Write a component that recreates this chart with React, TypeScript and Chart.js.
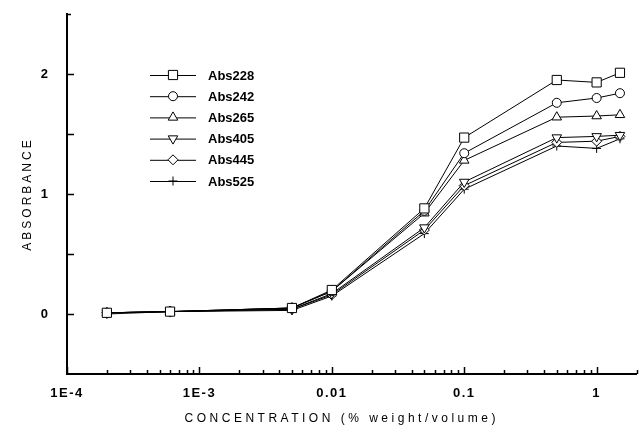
import React, { useEffect, useRef } from "react";
import { Chart, registerables } from "chart.js";
import * as helpers from "chart.js/helpers";

Chart.register(...registerables);

const concentrations = [2e-4, 6e-4, 5e-3, 0.01, 0.05, 0.1, 0.5, 1, 1.5];
const abs228 = [0.01, 0.02, 0.05, 0.2, 0.88, 1.47, 1.95, 1.93, 2.01];
const abs242 = [0.01, 0.02, 0.05, 0.19, 0.86, 1.34, 1.76, 1.8, 1.84];
const abs265 = [0.01, 0.02, 0.05, 0.19, 0.84, 1.28, 1.64, 1.65, 1.66];
const abs405 = [0.01, 0.02, 0.04, 0.17, 0.72, 1.1, 1.47, 1.48, 1.49];
const abs445 = [0.01, 0.02, 0.04, 0.16, 0.7, 1.07, 1.43, 1.44, 1.48];
const abs525 = [0.0, 0.02, 0.03, 0.15, 0.67, 1.04, 1.4, 1.38, 1.46];

const seriesNames = ["Abs228", "Abs242", "Abs265", "Abs405", "Abs445", "Abs525"];
const seriesValues = [abs228, abs242, abs265, abs405, abs445, abs525];
const pointStyles = ["rect", "circle", "triangle", "triangle", "rectRot", "cross"];
const pointRotations = [0, 0, 0, 180, 0, 0];
const pointRadii = [6.5, 4.5, 5.5, 5.5, 5, 4.5];

const xTickValues = [1e-4, 1e-3, 0.01, 0.1, 1];
const xTickLabels = ["1E-4", "1E-3", "0.01", "0.1", "1"];
const yTickValues = [0, 0.5, 1, 1.5, 2];
const yTickLabels = ["0", "", "1", "", "2"];

const FONT = "'Liberation Sans', Arial, Helvetica, sans-serif";

const spacingPatch = {
  id: "spacingPatch",
  beforeDraw(chart: any) {
    for (const id of ["x", "y"]) {
      const s = chart.scales[id];
      if (!s || s.__patched) continue;
      s.__patched = true;
      const origTitle = s.drawTitle.bind(s);
      const origLabels = s.drawLabels.bind(s);
      s.drawTitle = function (...args: any[]) {
        const ctx = chart.ctx;
        ctx.save();
        ctx.letterSpacing = id === "x" ? "3.5px" : "3px";
        if (id === "x") ctx.translate(-10, 0);
        origTitle(...args);
        ctx.restore();
      };
      s.drawLabels = function (...args: any[]) {
        const ctx = chart.ctx;
        ctx.save();
        ctx.letterSpacing = id === "x" ? "1.5px" : "0px";
        origLabels(...args);
        ctx.restore();
      };
    }
  },
};

const inwardTicks = {
  id: "inwardTicks",
  afterDraw(chart: any) {
    const { ctx, chartArea } = chart;
    const x = chart.scales.x;
    const y = chart.scales.y;
    ctx.save();
    ctx.strokeStyle = "#000";
    ctx.lineWidth = 1.5;
    ctx.beginPath();
    for (const v of [...yTickValues, 2.5]) {
      const py = Math.round(y.getPixelForValue(v)) + 0.5;
      const len = v === 2.5 ? 4 : 7;
      ctx.moveTo(chartArea.left, py);
      ctx.lineTo(chartArea.left + len, py);
    }
    for (let d = -4; d <= 0; d++) {
      for (let m = 1; m <= 9; m++) {
        const v = m * Math.pow(10, d);
        if (v > x.max + 1e-9) break;
        const px = Math.round(x.getPixelForValue(v)) + 0.5;
        const len = m === 1 ? 7 : 4;
        ctx.moveTo(px, chartArea.bottom);
        ctx.lineTo(px, chartArea.bottom - len);
      }
    }
    ctx.stroke();
    ctx.restore();
  },
};

const sideLegend = {
  id: "sideLegend",
  afterDraw(chart: any) {
    const { ctx } = chart;
    ctx.save();
    chart.data.datasets.forEach((ds: any, i: number) => {
      const cy = 75 + i * 21.2;
      const cx = 173;
      ctx.strokeStyle = "#000";
      ctx.lineWidth = 1;
      ctx.beginPath();
      ctx.moveTo(150, cy + 0.5);
      ctx.lineTo(196, cy + 0.5);
      ctx.stroke();
      ctx.fillStyle = "#fff";
      ctx.strokeStyle = "#000";
      ctx.lineWidth = 1;
      helpers.drawPoint(
        ctx,
        { pointStyle: ds.pointStyle, rotation: ds.pointRotation, radius: ds.pointRadius, borderWidth: 1 },
        cx,
        cy
      );
      ctx.fillStyle = "#000";
      ctx.font = `bold 13px ${FONT}`;
      ctx.textBaseline = "middle";
      ctx.textAlign = "left";
      ctx.fillText(ds.label, 208, cy + 1);
    });
    ctx.restore();
  },
};

export default function App() {
  const canvasRef = useRef<HTMLCanvasElement | null>(null);

  useEffect(() => {
    if (!canvasRef.current) return;
    const datasets = seriesNames.map((name, i) => ({
      label: name,
      data: concentrations.map((c, j) => ({ x: c, y: seriesValues[i][j] })),
      borderColor: "#000",
      borderWidth: 1,
      backgroundColor: "#fff",
      pointBackgroundColor: "#fff",
      pointBorderColor: "#000",
      pointBorderWidth: 1,
      pointStyle: pointStyles[i],
      pointRotation: pointRotations[i],
      pointRadius: pointRadii[i],
      tension: 0,
      fill: false,
    }));

    const chart = new Chart(canvasRef.current, {
      type: "line",
      data: { datasets },
      options: {
        animation: false,
        responsive: false,
        maintainAspectRatio: false,
        devicePixelRatio: 1,
        layout: { padding: { top: 14, right: 2, left: 0, bottom: 0 } },
        plugins: {
          legend: { display: false },
          tooltip: { enabled: false },
        },
        scales: {
          x: {
            type: "logarithmic",
            min: 1e-4,
            max: 2,
            grid: { display: false, drawTicks: false },
            border: { display: true, color: "#000", width: 2 },
            afterBuildTicks: (scale: any) => {
              scale.ticks = xTickValues.map((v) => ({ value: v }));
            },
            afterFit: (scale: any) => {
              scale.height = 55;
              scale.paddingLeft = 0;
              scale.paddingRight = 0;
              scale.paddingTop = 0;
              scale.paddingBottom = 0;
            },
            ticks: {
              autoSkip: false,
              maxRotation: 0,
              padding: 12,
              color: "#000",
              font: { family: FONT, size: 13, weight: "bold" },
              callback: (value: any) => {
                const idx = xTickValues.findIndex((v) => Math.abs(v - value) / v < 1e-6);
                return idx >= 0 ? xTickLabels[idx] : "";
              },
            },
            title: {
              display: true,
              text: "CONCENTRATION (% weight/volume)",
              color: "#000",
              font: { family: FONT, size: 12, weight: "normal" },
              padding: { top: 0, bottom: 3 },
            },
          },
          y: {
            type: "linear",
            min: -0.5,
            max: 2.5,
            grid: { display: false, drawTicks: false },
            border: { display: true, color: "#000", width: 2 },
            afterBuildTicks: (scale: any) => {
              scale.ticks = yTickValues.map((v) => ({ value: v }));
            },
            afterFit: (scale: any) => {
              scale.width = 67;
              scale.paddingLeft = 0;
              scale.paddingRight = 0;
              scale.paddingTop = 0;
              scale.paddingBottom = 0;
            },
            ticks: {
              autoSkip: false,
              padding: 19,
              color: "#000",
              font: { family: FONT, size: 13, weight: "bold" },
              callback: (value: any) => {
                const idx = yTickValues.findIndex((v) => Math.abs(v - value) < 1e-9);
                return idx >= 0 ? yTickLabels[idx] : "";
              },
            },
            title: {
              display: true,
              text: "ABSORBANCE",
              color: "#000",
              font: { family: FONT, size: 12, weight: "normal" },
              padding: { top: 20, bottom: 0 },
            },
          },
        },
      },
      plugins: [spacingPatch, inwardTicks, sideLegend],
    });

    return () => chart.destroy();
  }, []);

  return (
    <div style={{ position: "absolute", left: 0, top: 0, width: 644, height: 429, background: "#fff" }}>
      <canvas ref={canvasRef} width={644} height={429} style={{ width: 644, height: 429 }} />
    </div>
  );
}
